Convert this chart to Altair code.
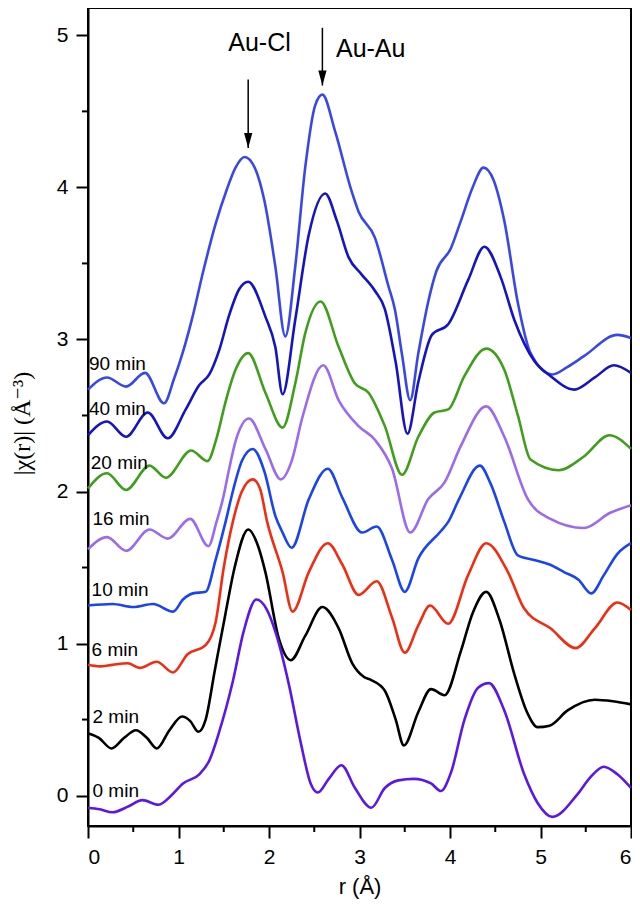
import altair as alt
import pandas as pd

# ---- data -------------------------------------------------------------
r_0 = [0, 0.13, 0.27, 0.45, 0.6, 0.78, 0.92, 1.05, 1.23, 1.34, 1.45, 1.6, 1.72, 1.86, 1.97, 2.08, 2.22, 2.35, 2.46, 2.54, 2.66, 2.8, 2.95, 3.13, 3.28, 3.43, 3.6, 3.79, 3.9, 4.01, 4.16, 4.31, 4.43, 4.6, 4.82, 4.97, 5.13, 5.41, 5.55, 5.7, 5.85, 6.0]
y_0 = [-0.08, -0.09, -0.11, -0.07, -0.03, -0.06, 0.0, 0.08, 0.14, 0.23, 0.42, 0.75, 1.08, 1.29, 1.23, 1.06, 0.73, 0.35, 0.08, 0.02, 0.11, 0.20, 0.05, -0.08, 0.05, 0.10, 0.11, 0.08, 0.03, 0.15, 0.50, 0.71, 0.74, 0.56, 0.14, -0.05, -0.14, 0.01, 0.12, 0.19, 0.14, 0.05]

r_2 = [0, 0.12, 0.26, 0.4, 0.53, 0.65, 0.76, 0.9, 1.04, 1.13, 1.22, 1.3, 1.4, 1.52, 1.62, 1.77, 1.88, 1.96, 2.11, 2.24, 2.4, 2.59, 2.77, 2.92, 3.05, 3.13, 3.28, 3.4, 3.49, 3.65, 3.79, 3.94, 4.12, 4.25, 4.40, 4.55, 4.71, 4.85, 4.97, 5.1, 5.3, 5.6, 5.8, 6.0]
y_2 = [0.41, 0.38, 0.31, 0.38, 0.43, 0.38, 0.31, 0.43, 0.52, 0.49, 0.42, 0.5, 0.82, 1.2, 1.5, 1.75, 1.64, 1.47, 1.03, 0.89, 1.05, 1.24, 1.1, 0.87, 0.78, 0.76, 0.69, 0.5, 0.33, 0.55, 0.70, 0.66, 0.95, 1.2, 1.34, 1.15, 0.8, 0.55, 0.45, 0.46, 0.56, 0.63, 0.62, 0.6]

r_6 = [0, 0.13, 0.27, 0.44, 0.57, 0.76, 0.94, 1.1, 1.3, 1.41, 1.5, 1.6, 1.7, 1.82, 1.9, 1.98, 2.15, 2.26, 2.44, 2.65, 2.81, 2.99, 3.19, 3.36, 3.5, 3.65, 3.78, 3.98, 4.2, 4.40, 4.64, 4.82, 5.11, 5.39, 5.6, 5.85, 6.0]
y_6 = [0.86, 0.85, 0.86, 0.87, 0.84, 0.88, 0.81, 0.93, 0.99, 1.14, 1.5, 1.8, 2.0, 2.08, 2.02, 1.8, 1.47, 1.21, 1.47, 1.66, 1.52, 1.32, 1.41, 1.17, 0.94, 1.12, 1.25, 1.13, 1.45, 1.66, 1.47, 1.23, 1.10, 0.97, 1.1, 1.27, 1.22]

r_10 = [0, 0.27, 0.5, 0.72, 0.94, 1.05, 1.16, 1.30, 1.41, 1.52, 1.6, 1.7, 1.82, 1.95, 2.07, 2.15, 2.25, 2.44, 2.65, 2.81, 3.03, 3.19, 3.36, 3.50, 3.65, 3.9, 3.98, 4.1, 4.33, 4.45, 4.6, 4.75, 4.93, 5.1, 5.26, 5.42, 5.56, 5.7, 5.85, 6.0]
y_10 = [1.25, 1.26, 1.24, 1.26, 1.21, 1.29, 1.33, 1.34, 1.55, 1.80, 2.0, 2.2, 2.28, 2.13, 1.84, 1.73, 1.63, 1.95, 2.15, 1.96, 1.73, 1.77, 1.55, 1.34, 1.56, 1.74, 1.80, 1.95, 2.17, 2.05, 1.80, 1.58, 1.55, 1.52, 1.47, 1.42, 1.33, 1.45, 1.59, 1.66]

r_16 = [0, 0.21, 0.42, 0.68, 0.88, 1.13, 1.33, 1.42, 1.49, 1.56, 1.63, 1.78, 1.96, 2.13, 2.25, 2.37, 2.6, 2.77, 2.99, 3.17, 3.36, 3.56, 3.76, 3.94, 4.12, 4.40, 4.6, 4.86, 5.11, 5.48, 5.77, 6.0]
y_16 = [1.62, 1.70, 1.61, 1.75, 1.69, 1.82, 1.64, 1.8, 1.95, 2.15, 2.33, 2.48, 2.28, 2.08, 2.2, 2.49, 2.83, 2.60, 2.43, 2.34, 2.15, 1.73, 1.95, 2.06, 2.3, 2.56, 2.36, 1.95, 1.82, 1.76, 1.86, 1.91]

r_20 = [0, 0.21, 0.42, 0.68, 0.86, 1.14, 1.32, 1.42, 1.52, 1.63, 1.77, 1.96, 2.15, 2.29, 2.4, 2.57, 2.77, 2.95, 3.1, 3.28, 3.47, 3.65, 3.83, 3.98, 4.16, 4.40, 4.6, 4.75, 4.89, 5.2, 5.48, 5.76, 6.0]
y_20 = [2.02, 2.12, 2.01, 2.17, 2.09, 2.27, 2.2, 2.35, 2.59, 2.8, 2.91, 2.65, 2.42, 2.71, 3.04, 3.25, 2.95, 2.71, 2.65, 2.43, 2.11, 2.36, 2.52, 2.54, 2.76, 2.94, 2.8, 2.5, 2.21, 2.14, 2.23, 2.37, 2.28]

r_40 = [0, 0.21, 0.42, 0.66, 0.88, 1.08, 1.23, 1.34, 1.45, 1.56, 1.67, 1.77, 1.96, 2.07, 2.15, 2.29, 2.44, 2.62, 2.75, 2.88, 3.02, 3.17, 3.28, 3.4, 3.53, 3.65, 3.8, 3.98, 4.2, 4.38, 4.56, 4.71, 4.93, 5.11, 5.37, 5.6, 5.81, 6.0]
y_40 = [2.37, 2.46, 2.36, 2.52, 2.35, 2.54, 2.70, 2.77, 2.93, 3.16, 3.33, 3.38, 3.15, 2.95, 2.64, 3.13, 3.69, 3.96, 3.78, 3.54, 3.43, 3.32, 3.2, 2.85, 2.38, 2.72, 3.03, 3.10, 3.39, 3.61, 3.41, 3.13, 2.86, 2.76, 2.67, 2.75, 2.83, 2.78]

r_90 = [0, 0.21, 0.42, 0.63, 0.84, 0.95, 1.05, 1.16, 1.27, 1.41, 1.53, 1.63, 1.73, 1.85, 1.95, 2.07, 2.18, 2.29, 2.40, 2.51, 2.59, 2.73, 2.91, 2.99, 3.17, 3.32, 3.39, 3.47, 3.56, 3.65, 3.76, 3.85, 4.01, 4.12, 4.25, 4.37, 4.48, 4.6, 4.75, 4.89, 5.13, 5.3, 5.48, 5.85, 6.0]
y_90 = [2.67, 2.75, 2.69, 2.78, 2.58, 2.74, 2.92, 3.16, 3.44, 3.76, 3.98, 4.13, 4.2, 4.12, 3.91, 3.48, 3.02, 3.48, 4.13, 4.54, 4.61, 4.37, 3.98, 3.84, 3.67, 3.35, 3.2, 2.9, 2.6, 2.91, 3.25, 3.45, 3.6, 3.78, 4.0, 4.13, 4.05, 3.78, 3.24, 2.91, 2.77, 2.82, 2.89, 3.03, 3.01]

series_names = ["90 min", "40 min", "20 min", "16 min", "10 min", "6 min", "2 min", "0 min"]
series_colors = ["#3a47e8", "#1414c4", "#3f9f1a", "#9b6bef", "#1a44f2", "#f02d12", "#000000", "#5b17e8"]
series_r = [r_90, r_40, r_20, r_16, r_10, r_6, r_2, r_0]
series_y = [y_90, y_40, y_20, y_16, y_10, y_6, y_2, y_0]

label_r = [0.01, 0.01, 0.03, 0.05, 0.04, 0.04, 0.05, 0.05]
label_y = [2.80, 2.50, 2.15, 1.78, 1.31, 0.92, 0.48, -0.01]

ann_text = ["Au-Cl", "Au-Au"]
ann_r = [1.55, 2.74]
ann_y = [4.90, 4.86]
arrow_r = [1.77, 2.59]
arrow_top = [4.71, 5.05]
arrow_tip = [4.26, 4.67]

x_ticks = [0, 1, 2, 3, 4, 5, 6]
y_ticks = [0, 1, 2, 3, 4, 5]
x_minor = [0.5, 1.5, 2.5, 3.5, 4.5, 5.5]
y_minor = [0.5, 1.5, 2.5, 3.5, 4.5]

# ---- build tables -----------------------------------------------------
rows = []
for name, rs, ys in zip(series_names, series_r, series_y):
    for r, y in zip(rs, ys):
        rows.append({"series": name, "r": r, "y": y})
df = pd.DataFrame(rows)
df_lab = pd.DataFrame({"r": label_r, "y": label_y, "text": series_names})
df_ann = pd.DataFrame({"r": ann_r, "y": ann_y, "text": ann_text})
df_arr = pd.DataFrame({"r": arrow_r, "y": arrow_top, "tip": arrow_tip})
df_xm = pd.DataFrame({"r": x_minor})
df_ym = pd.DataFrame({"y": y_minor})

W, H = 543, 818
SANS = "Liberation Sans, Arial, sans-serif"

xscale = alt.Scale(domain=[0, 6], nice=False, zero=False)
yscale = alt.Scale(domain=[-0.2, 5.18], nice=False, zero=False)

xaxis = alt.Axis(values=x_ticks, format="d", grid=False, labelFont=SANS, labelFontSize=21,
                 labelColor="black", labelPadding=8, tickSize=12, tickWidth=2, tickColor="black",
                 domainColor="black", domainWidth=2, title="r (Å)", titleFont=SANS,
                 titleFontSize=22, titleFontWeight="normal", titleColor="black",
                 titleX=W / 2, titleY=67, titleAlign="center", titleBaseline="alphabetic")
yaxis = alt.Axis(values=y_ticks, format="d", grid=False, labelFont=SANS, labelFontSize=21,
                 labelColor="black", labelPadding=8, tickSize=12, tickWidth=2, tickColor="black",
                 domainColor="black", domainWidth=2, title="|χ(r)| (Å⁻³)",
                 titleFont="Liberation Serif, DejaVu Serif, serif", titleFontSize=24,
                 titleFontWeight="normal", titleColor="black", titleAngle=270,
                 titleX=-66, titleY=415, titleAlign="center", titleBaseline="middle")

X = alt.X("r:Q", scale=xscale, axis=xaxis)
Y = alt.Y("y:Q", scale=yscale, axis=yaxis)

lines = alt.Chart(df).mark_line(interpolate="monotone", strokeWidth=2.6).encode(
    x=X, y=Y,
    color=alt.Color("series:N", scale=alt.Scale(domain=series_names, range=series_colors), legend=None),
)

labels = alt.Chart(df_lab).mark_text(align="left", baseline="alphabetic", font=SANS,
                                     fontSize=19, color="black").encode(
    x=X, y=Y, text="text:N",
)

ann = alt.Chart(df_ann).mark_text(align="left", baseline="alphabetic", font=SANS,
                                  fontSize=25, color="black").encode(
    x=X, y=Y, text="text:N",
)

shafts = alt.Chart(df_arr).mark_rule(color="black", strokeWidth=1.5).encode(
    x=X, y=Y, y2="tip:Q",
)

heads = alt.Chart(df_arr).mark_point(shape="M-0.55,-2L0.55,-2L0,0Z", size=225, filled=True,
                                     color="black", opacity=1, strokeWidth=0).encode(
    x=X, y=alt.Y("tip:Q", scale=yscale, axis=yaxis),
)

xminor = alt.Chart(df_xm).mark_rule(color="black", strokeWidth=2).encode(
    x=X,
    y=alt.value(H),
    y2=alt.value(H + 6),
)
yminor = alt.Chart(df_ym).mark_rule(color="black", strokeWidth=2).encode(
    y=Y,
    x=alt.value(-6),
    x2=alt.value(0),
)

chart = alt.layer(lines, labels, ann, shafts, heads, xminor, yminor).properties(
    width=W, height=H,
    autosize=alt.AutoSizeParams(type="none"),
    padding={"left": 80, "top": 0, "right": 1, "bottom": 80},
    background="white",
).configure_view(stroke="black", strokeWidth=2)

chart.save("out.html", embed_options={"renderer": "svg", "actions": False})
